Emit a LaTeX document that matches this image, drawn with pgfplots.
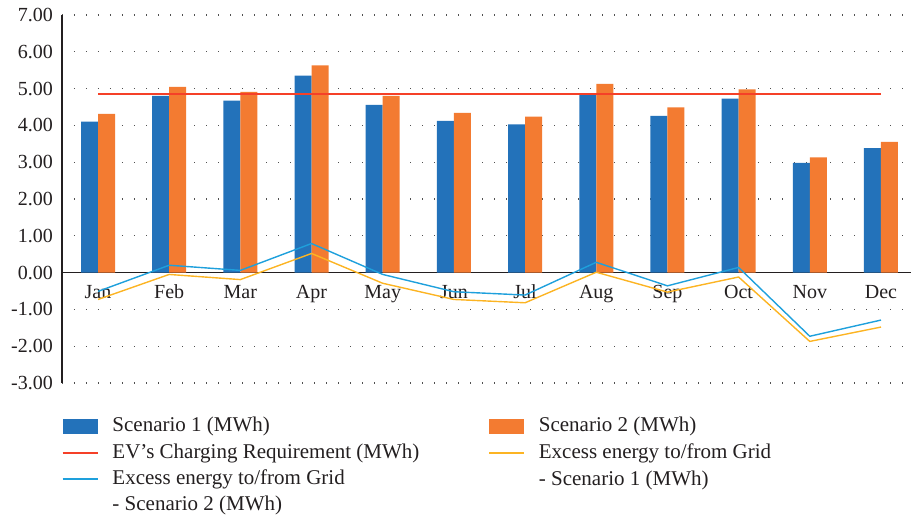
\documentclass[border=0pt]{standalone}
\usepackage{pgfplots}
\pgfplotsset{compat=1.18}
\usepackage{fontspec}
\setmainfont{Liberation Serif}
\definecolor{barblue}{RGB}{35,114,186}
\definecolor{barorange}{RGB}{243,123,49}
\definecolor{evred}{RGB}{245,64,40}
\definecolor{exyellow}{RGB}{252,180,35}
\definecolor{exblue}{RGB}{30,160,220}
\definecolor{txt}{RGB}{35,31,32}
\definecolor{gridc}{RGB}{80,80,80}
\newcommand\ls{\rule[-5pt]{0pt}{20pt}}
\begin{document}
\begin{tikzpicture}
\begin{axis}[
  scale only axis,
  width=849pt, height=368pt,
  xmin=-0.506, xmax=11.422,
  ymin=-3, ymax=7,
  axis x line=middle,
  axis y line=left,
  axis line style={-, line width=1.2pt, color=txt},
  hide obscured y ticks=false,
  hide obscured x ticks=false,
  major tick length=0pt,
  xtick={0,...,11},
  xticklabels={Jan,Feb,Mar,Apr,May,Jun,Jul,Aug,Sep,Oct,Nov,Dec},
  ytick={-3,-2,...,7},
  ymajorgrids,
  major grid style={line width=1.3pt, color=gridc, dash pattern=on 1.3pt off 10.7pt},
  tick label style={font=\fontsize{20}{24}\selectfont, text=txt},
  xticklabel style={anchor=base, yshift=-26pt, inner sep=0pt},
  yticklabel style={anchor=east, inner sep=0pt, xshift=-9pt,
    /pgf/number format/.cd, fixed, fixed zerofill, precision=2, assume math mode=true},
  legend columns=2,
  legend cell align=left,
  legend style={at={(0,-0.091)}, anchor=north west, draw=none, fill=none,
    inner sep=0pt, outer sep=0pt, column sep=14pt, row sep=9.5pt,
    font=\fontsize{21}{26.5}\selectfont, text=txt, nodes={inner sep=0pt, anchor=base west}},
]
\addplot[ybar, bar width=17pt, bar shift=-8.5pt, fill=barblue, draw=none,
  legend image code/.code={\fill[barblue] (0pt,-3pt) rectangle (35pt,12.7pt);}]
  coordinates {(0,4.10) (1,4.80) (2,4.67) (3,5.35) (4,4.56) (5,4.12) (6,4.03) (7,4.87) (8,4.26) (9,4.73) (10,2.98) (11,3.38)};
\addlegendentry{\makebox[362pt][l]{\ls Scenario 1 (MWh)}}
\addplot[ybar, bar width=17pt, bar shift=8.5pt, fill=barorange, draw=none,
  legend image code/.code={\fill[barorange] (0pt,-3pt) rectangle (35pt,12.7pt);}]
  coordinates {(0,4.31) (1,5.05) (2,4.91) (3,5.63) (4,4.80) (5,4.34) (6,4.24) (7,5.13) (8,4.49) (9,4.98) (10,3.13) (11,3.55)};
\addlegendentry{\ls Scenario 2 (MWh)}
\addplot[evred, line width=1.5pt, sharp plot, no markers,
  legend image code/.code={\draw[evred, line width=1.5pt] (0pt,6pt) -- (35pt,6pt);}]
  coordinates {(0,4.86) (1,4.86) (2,4.86) (3,4.86) (4,4.86) (5,4.86) (6,4.86) (7,4.86) (8,4.86) (9,4.86) (10,4.86) (11,4.86)};
\addlegendentry{\makebox[362pt][l]{\ls EV's Charging Requirement (MWh)}}
\addplot[exyellow, line width=1.4pt, sharp plot, no markers,
  legend image code/.code={\draw[exyellow, line width=1.4pt] (0pt,6pt) -- (35pt,6pt);}]
  coordinates {(0,-0.73) (1,-0.05) (2,-0.19) (3,0.52) (4,-0.29) (5,-0.73) (6,-0.82) (7,0.01) (8,-0.53) (9,-0.12) (10,-1.87) (11,-1.48)};
\addlegendentry{\smash{\vtop{\baselineskip=26.5pt\hbox{\ls Excess energy to/from Grid}\hbox{- Scenario 1 (MWh)}}}}
\addplot[exblue, line width=1.4pt, sharp plot, no markers,
  legend image code/.code={\draw[exblue, line width=1.4pt] (0pt,6pt) -- (35pt,6pt);}]
  coordinates {(0,-0.51) (1,0.20) (2,0.06) (3,0.79) (4,-0.05) (5,-0.52) (6,-0.61) (7,0.28) (8,-0.36) (9,0.14) (10,-1.73) (11,-1.29)};
\addlegendentry{\makebox[362pt][l]{\vtop{\baselineskip=26pt\hbox{\ls Excess energy to/from Grid}\hbox{\ls - Scenario 2 (MWh)}}}}
\end{axis}
\pgfresetboundingbox
\useasboundingbox ([shift={(-62pt,-134pt)}]current axis.south west) rectangle ([shift={(849pt,383pt)}]current axis.south west);
\end{tikzpicture}
\end{document}
